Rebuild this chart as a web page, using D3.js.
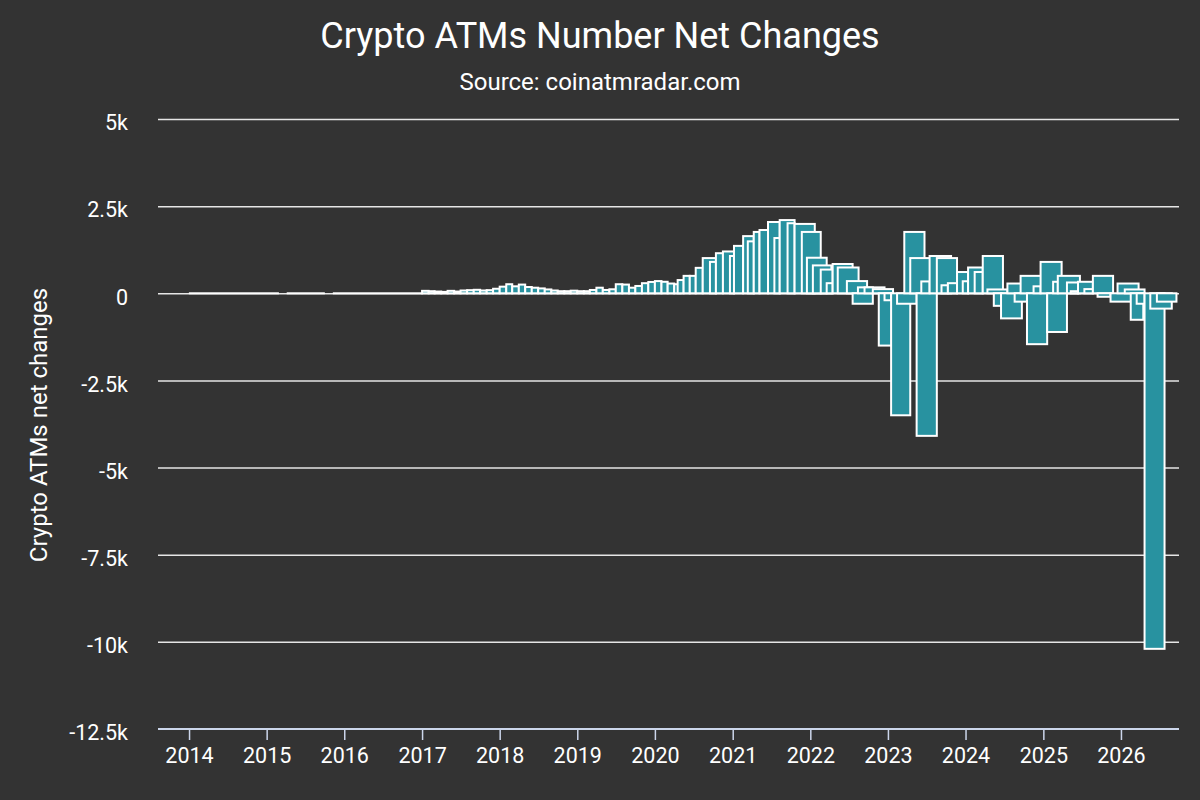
<!DOCTYPE html>
<html>
<head>
<meta charset="utf-8">
<script src="https://cdn.jsdelivr.net/npm/d3@7"></script>
<style>
  html, body { margin: 0; padding: 0; background: #333333; }
  svg { display: block; font-family: Roboto, "Noto Sans", sans-serif; }
</style>
</head>
<body>
<svg id="chart" width="1200" height="800"></svg>
<script>
// ---- data ----
const chartTitle = "Crypto ATMs Number Net Changes";
const chartSubtitle = "Source: coinatmradar.com";
const yAxisTitle = "Crypto ATMs net changes";

const yTicks = [5000, 2500, 0, -2500, -5000, -7500, -10000, -12500];
const yTickLabels = ["5k", "2.5k", "0", "-2.5k", "-5k", "-7.5k", "-10k", "-12.5k"];
const xTickYears = [2014, 2015, 2016, 2017, 2018, 2019, 2020, 2021, 2022, 2023, 2024, 2025, 2026];

// periods with no net change
const zeroStart = ["2014-01-05", "2015-04-10", "2015-11-13"];
const zeroEnd   = ["2015-02-23", "2015-09-27", "2017-01-01"];

// monthly net changes 2017-01 .. 2020-04
const months = [
  "2017-01","2017-02","2017-03","2017-04","2017-05","2017-06","2017-07","2017-08","2017-09","2017-10","2017-11","2017-12",
  "2018-01","2018-02","2018-03","2018-04","2018-05","2018-06","2018-07","2018-08","2018-09","2018-10","2018-11","2018-12",
  "2019-01","2019-02","2019-03","2019-04","2019-05","2019-06","2019-07","2019-08","2019-09","2019-10","2019-11","2019-12",
  "2020-01","2020-02","2020-03","2020-04"
];
const monthlyChange = [
  70, 60, 50, 40, 70, 50, 80, 90, 100, 80, 90, 130,
  190, 260, 200, 250, 180, 160, 140, 110, 80, 60, 60, 75,
  60, 60, 95, 160, 95, 115, 260, 250, 160, 210, 290, 325,
  350, 330, 280, 260
];

// irregular reporting periods from 2020-04 onwards
const periodStart = [
  "2020-04-17","2020-05-15","2020-06-13","2020-07-11","2020-08-13","2020-09-16","2020-10-14","2020-11-16","2020-12-19",
  "2021-01-07","2021-02-19","2021-03-13","2021-04-10","2021-05-07","2021-06-16","2021-07-16","2021-08-10","2021-09-16",
  "2021-10-19","2021-11-22","2021-12-16","2022-01-13","2022-02-19","2022-03-19","2022-04-16","2022-05-10","2022-06-22",
  "2022-07-19","2022-08-13","2022-09-13","2022-10-22","2022-11-19","2022-12-16","2023-01-16","2023-02-13","2023-03-19",
  "2023-04-16","2023-05-16","2023-06-07","2023-07-16","2023-08-19","2023-09-10","2023-10-10","2023-11-22","2023-12-19",
  "2024-01-13","2024-02-13","2024-03-22","2024-04-13","2024-05-13","2024-06-16","2024-07-16","2024-08-19","2024-09-16",
  "2024-10-16","2024-11-16","2024-12-19","2025-01-19","2025-02-16","2025-03-10","2025-04-22","2025-05-10","2025-06-13",
  "2025-07-13","2025-08-22","2025-09-13","2025-11-13","2025-12-16","2026-01-19","2026-02-16","2026-03-16","2026-04-22",
  "2026-05-19","2026-06-19"
];
const periodEnd = [
  "2020-05-15","2020-06-13","2020-07-11","2020-08-13","2020-10-14","2020-10-14","2020-11-16","2021-01-07","2021-01-07",
  "2021-02-19","2021-04-10","2021-04-10","2021-05-07","2021-06-16","2021-08-10","2021-08-10","2021-10-19","2021-10-19",
  "2022-01-22","2022-02-19","2022-03-19","2022-04-10","2022-04-16","2022-04-16","2022-07-19","2022-08-16","2022-09-25",
  "2022-10-22","2022-10-22","2022-12-16","2023-01-25","2023-01-19","2023-01-16","2023-04-16","2023-05-16","2023-06-22",
  "2023-07-19","2023-08-19","2023-07-16","2023-10-25","2023-11-22","2023-10-10","2023-11-22","2024-01-13","2024-01-13",
  "2024-03-22","2024-03-22","2024-06-25","2024-07-16","2024-06-19","2024-09-22","2024-09-22","2024-10-16","2024-12-25",
  "2025-01-19","2024-12-19","2025-03-28","2025-04-22","2025-03-10","2025-06-22","2025-06-13","2025-06-13","2025-08-22",
  "2025-08-22","2025-11-25","2025-11-13","2026-02-22","2026-03-25","2026-04-22","2026-04-16","2026-04-22","2026-07-25",
  "2026-08-28","2026-09-19"
];
const periodChange = [
  380, 500, 500, 730, 1010, 900, 1150, 1200, 1070,
  1360, 1640, 1490, 1760, 1815, 2045, 1585, 2100, 2010,
  1990, 1760, 1020, 800, 680, 290, 840, 740, 350,
  -300, 170, 170, 120, -1500, -200, -3500, -300, 1760,
  1010, -4090, 340, 1070, 1010, 230, 290, 610, 345,
  740, 610, 1070, 110, -360, -720, 280, -240, 500,
  -1460, 200, 900, -1110, 330, 500, 310, 60, 330,
  120, 500, -100, -240, 280, 110, -760, -300, -10200,
  -440, -240
];

// ---- build bar records ----
const parse = d3.timeParse("%Y-%m-%d");
const parseMonth = d3.timeParse("%Y-%m");
const bars = [];
zeroStart.forEach((s, i) => bars.push({ start: parse(s), end: parse(zeroEnd[i]), value: 0 }));
months.forEach((m, i) => {
  const s = parseMonth(m);
  bars.push({ start: s, end: d3.timeMonth.offset(s, 1), value: monthlyChange[i] });
});
periodStart.forEach((s, i) => bars.push({ start: parse(s), end: parse(periodEnd[i]), value: periodChange[i] }));
bars.sort((a, b) => a.start - b.start);

// ---- layout ----
const svg = d3.select("#chart");
const W = 1200, H = 800;
const plot = { left: 158, right: 1179, top: 119, bottom: 729 };

svg.append("rect").attr("width", W).attr("height", H).attr("fill", "#333333");

const x = d3.scaleTime()
  .domain([parse("2013-08-08"), parse("2026-10-01")])
  .range([plot.left, plot.right]);
const y = d3.scaleLinear()
  .domain([-12500, 5000])
  .range([plot.bottom, plot.top]);

// title
svg.append("text").attr("x", 600).attr("y", 48).attr("text-anchor", "middle")
  .attr("fill", "#ffffff").attr("font-size", 36).text(chartTitle);
svg.append("text").attr("x", 600).attr("y", 90).attr("text-anchor", "middle")
  .attr("fill", "#ffffff").attr("font-size", 24).text(chartSubtitle);

// y grid
const yAxis = d3.axisLeft(y).tickValues(yTicks)
  .tickFormat((d, i) => yTickLabels[i])
  .tickSize(-(plot.right - plot.left)).tickPadding(30);
const gy = svg.append("g").attr("transform", `translate(${plot.left},0)`).call(yAxis);
gy.select(".domain").remove();
gy.selectAll(".tick line").attr("stroke", "#e6e6e6").attr("stroke-width", 1.5)
  .filter(d => d === -12500).remove();
gy.selectAll(".tick text").attr("fill", "#ffffff").attr("font-size", 21.5)
  .attr("font-family", "Roboto, sans-serif").attr("dy", "0.5em");

// y title
svg.append("text")
  .attr("transform", `translate(47,${(plot.top + plot.bottom) / 2 + 1}) rotate(-90)`)
  .attr("text-anchor", "middle").attr("fill", "#ffffff").attr("font-size", 24)
  .text(yAxisTitle);

// bars (zero-change periods kept as a hairline so their white outline shows)
svg.append("g").selectAll("rect").data(bars).join("rect")
  .attr("x", d => x(d.start))
  .attr("width", d => Math.max(0, x(d.end) - x(d.start)))
  .attr("y", d => y(Math.max(0, d.value)))
  .attr("height", d => Math.max(0.01, Math.abs(y(d.value) - y(0))))
  .attr("fill", "#2892a0")
  .attr("stroke", "#ffffff")
  .attr("stroke-width", 2);

// x axis
const xAxis = d3.axisBottom(x)
  .tickValues(xTickYears.map(yv => new Date(yv, 0, 1)))
  .tickFormat(d3.timeFormat("%Y"))
  .tickSize(11).tickPadding(8);
const gx = svg.append("g").attr("transform", `translate(0,${plot.bottom})`).call(xAxis);
gx.select(".domain").attr("stroke", "#ccd6eb").attr("stroke-width", 2)
  .attr("d", `M${plot.left},0H${plot.right}`);
gx.selectAll(".tick line").attr("stroke", "#ccd6eb").attr("stroke-width", 1.5);
gx.selectAll(".tick text").attr("fill", "#ffffff").attr("font-size", 21.5)
  .attr("font-family", "Roboto, sans-serif");
</script>
</body>
</html>
